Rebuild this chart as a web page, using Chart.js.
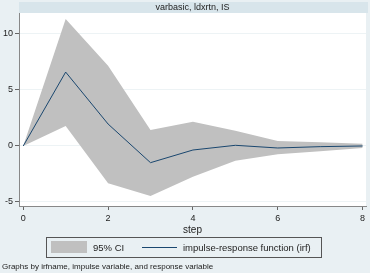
<!DOCTYPE html>
<html>
<head>
<meta charset="utf-8">
<script src="https://cdn.jsdelivr.net/npm/chart.js@4"></script>
<style>
  html, body { margin: 0; padding: 0; background: #e9f0f3; }
  #wrap { width: 370px; height: 273px; }
</style>
</head>
<body>
<div id="wrap"><canvas id="irf" width="370" height="273"></canvas></div>
<script>
// values
const steps = [0, 1, 2, 3, 4, 5, 6, 7, 8]
const irf = [0, 6.6, 1.96, -1.49, -0.36, 0.06, -0.18, -0.06, 0.0]
const ciUpper = [0, 11.34, 7.17, 1.43, 2.17, 1.37, 0.45, 0.33, 0.2]
const ciLower = [0, 1.79, -3.33, -4.46, -2.74, -1.31, -0.74, -0.47, -0.18]
const xTicks = [0, 2, 4, 6, 8]
const yTicks = [-5, 0, 5, 10]

const titleText = 'varbasic, ldxrtn, IS'
const xTitle = 'step'
const footText = 'Graphs by irfname, impulse variable, and response variable'
const ciLabel = '95% CI'
const irfLabel = 'impulse-response function (irf)'

const FONT = '"Liberation Sans", Arial, sans-serif'
const ciColor = '#c0c0c0'
const lineColor = '#1a476f'

const toPts = (arr) => steps.map((s, i) => ({ x: s, y: arr[i] }))

// background, white plot region and the title band
const stataFrame = {
  id: 'stataFrame',
  beforeDraw(chart) {
    const ctx = chart.ctx
    const a = chart.chartArea
    ctx.save()
    ctx.fillStyle = '#e9f0f3'
    ctx.fillRect(0, 0, chart.width, chart.height)
    ctx.fillStyle = '#ffffff'
    ctx.fillRect(a.left, a.top, a.right - a.left, a.bottom - a.top)
    ctx.fillStyle = '#d8e5eb'
    ctx.fillRect(a.left, 2, a.right - a.left + 2, a.top - 2)
    ctx.fillStyle = '#222'
    ctx.font = '9px ' + FONT
    ctx.textAlign = 'center'
    ctx.textBaseline = 'middle'
    ctx.fillText(titleText, (a.left + a.right) / 2, 8)
    ctx.restore()
  },
  afterDraw(chart) {
    const ctx = chart.ctx
    const a = chart.chartArea
    ctx.save()
    ctx.fillStyle = '#222'
    ctx.textBaseline = 'middle'
    ctx.textAlign = 'center'
    ctx.font = '10px ' + FONT
    ctx.fillText(xTitle, (a.left + a.right) / 2, 230)

    // legend
    ctx.strokeStyle = '#555'
    ctx.lineWidth = 1
    ctx.strokeRect(46.5, 237.5, 275, 20)
    ctx.fillStyle = ciColor
    ctx.fillRect(51, 241, 36, 12)
    ctx.strokeStyle = lineColor
    ctx.beginPath()
    ctx.moveTo(142, 247.5)
    ctx.lineTo(177, 247.5)
    ctx.stroke()
    ctx.fillStyle = '#222'
    ctx.textAlign = 'left'
    ctx.font = '9.5px ' + FONT
    ctx.fillText(ciLabel, 93, 248)
    ctx.fillText(irfLabel, 183, 248)

    ctx.font = '8px ' + FONT
    ctx.fillText(footText, 2, 267)
    ctx.restore()
  }
}

const data = {
  datasets: [
    {
      label: 'upper',
      data: toPts(ciUpper),
      order: 2,
      borderWidth: 0,
      borderColor: ciColor,
      backgroundColor: ciColor,
      pointRadius: 0,
      fill: '+1',
      tension: 0
    },
    {
      label: 'lower',
      data: toPts(ciLower),
      order: 2,
      borderWidth: 0,
      borderColor: ciColor,
      backgroundColor: ciColor,
      pointRadius: 0,
      fill: false,
      tension: 0
    },
    {
      label: irfLabel,
      data: toPts(irf),
      order: 0,
      borderColor: lineColor,
      borderWidth: 1,
      pointRadius: 0,
      fill: false,
      tension: 0
    }
  ]
}

const config = {
  type: 'line',
  data: data,
  plugins: [stataFrame],
  options: {
    responsive: false,
    animation: false,
    devicePixelRatio: 1,
    layout: { padding: { top: 13, right: 4, bottom: 52, left: 0 } },
    plugins: {
      legend: { display: false },
      tooltip: { enabled: false }
    },
    scales: {
      x: {
        type: 'linear',
        min: -0.1,
        max: 8.08,
        afterBuildTicks: (s) => { s.ticks = xTicks.map(v => ({ value: v })) },
        afterFit: (s) => { s.height = 15 },
        border: { color: '#888', width: 1 },
        grid: { drawOnChartArea: false, drawTicks: true, tickLength: 4, tickColor: '#666' },
        ticks: { color: '#222', font: { family: FONT, size: 9 }, padding: 3, maxRotation: 0 }
      },
      y: {
        min: -5.36,
        max: 11.875,
        afterBuildTicks: (s) => { s.ticks = yTicks.map(v => ({ value: v })) },
        afterFit: (s) => { s.width = 19 },
        border: { color: '#888', width: 1 },
        grid: { color: '#edf3f5', lineWidth: 1, drawTicks: true, tickLength: 4, tickColor: '#666' },
        ticks: { color: '#222', font: { family: FONT, size: 9 }, padding: 2 }
      }
    }
  }
}

const irfChart = new Chart(document.getElementById('irf'), config)
</script>
</body>
</html>
